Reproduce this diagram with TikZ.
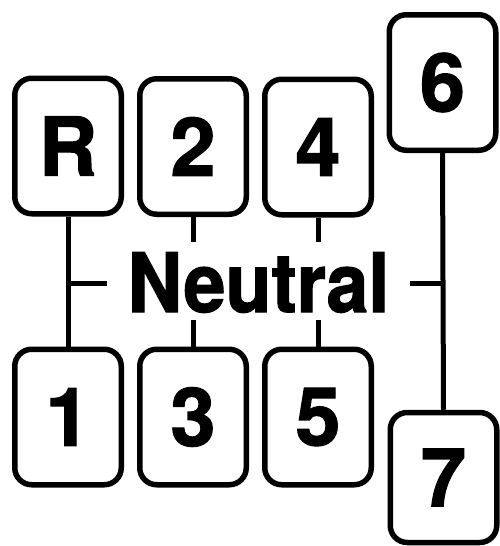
\documentclass[tikz,border=0pt]{standalone}
\usepackage{fontspec}
\setmainfont{TeX Gyre Heros}[BoldFeatures={FakeBold=1.5}]
\begin{document}
\begin{tikzpicture}[x=1pt,y=-1pt,
  gear/.style={draw,line width=5.5pt,rounded corners=17pt,minimum width=106.5pt,minimum height=135.5pt,inner sep=0pt,font=\fontsize{81}{81}\selectfont\bfseries},
  conn/.style={line width=5pt}]
\useasboundingbox (0,0) rectangle (499,546);
\node[gear] (R) at (68,146) {R};
\node[gear] (g2) at (193,146.5) {2};
\node[gear] (g4) at (318,147) {4};
\node[gear] (g6) at (442.5,82.5) {6};
\node[gear] (g1) at (68,417) {1};
\node[gear] (g3) at (193,417) {3};
\node[gear] (g5) at (318,417) {5};
\node[gear,minimum height=130pt] (g7) at (443.5,477.5) {7};
\node[inner sep=0pt,font=\fontsize{82}{82}\selectfont\bfseries] (neutral) at (258.5,282.5) {\scalebox{0.92}[1]{Neutral}};
\draw[conn] (R.south) -- (g1.north);
\draw[conn] (g6.south) -- (g7.north);
\coordinate (nl) at (68,283);
\coordinate (nle) at (107,283);
\coordinate (nr) at (442,283);
\coordinate (nre) at (410,283);
\draw[conn] (nl) -- (nle);
\draw[conn] (nre) -- (nr);
\coordinate (t2a) at (193,242);
\coordinate (t4a) at (318,242);
\coordinate (t3a) at (193,320);
\coordinate (t5a) at (318,320);
\draw[conn] (g2.south) -- (t2a);
\draw[conn] (g4.south) -- (t4a);
\draw[conn] (t3a) -- (g3.north);
\draw[conn] (t5a) -- (g5.north);
\end{tikzpicture}
\end{document}
